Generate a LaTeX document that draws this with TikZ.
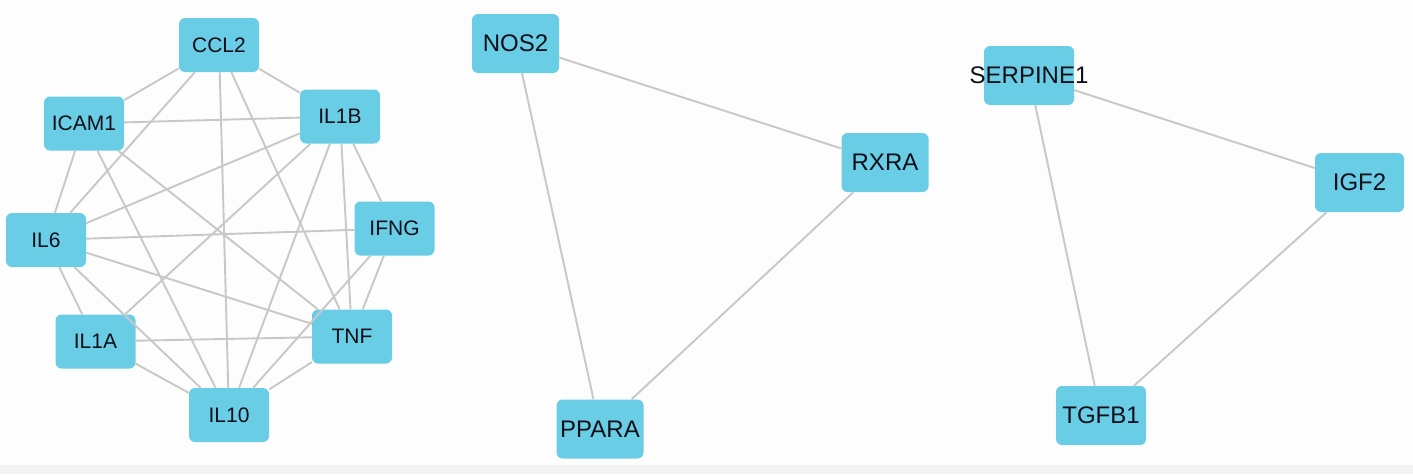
\documentclass[tikz,border=0pt]{standalone}
\usepackage{fontspec}
\setmainfont{Liberation Sans}
\definecolor{nodefill}{RGB}{106,205,230}
\definecolor{edgecol}{RGB}{200,200,200}
\definecolor{bgcol}{RGB}{253,253,253}
\definecolor{stripcol}{RGB}{242,242,242}
\definecolor{txtcol}{RGB}{15,15,25}
\tikzset{
  gene/.style={rectangle, rounded corners=6pt, fill=nodefill, draw=none,
    minimum width=87pt, minimum height=59pt, inner sep=0pt,
    text=txtcol, font=\fontsize{24}{24}\selectfont},
  small/.style={gene, minimum width=80pt, minimum height=54pt,
    font=\fontsize{21}{21}\selectfont},
  link/.style={draw=edgecol, line width=1.9pt}
}
\begin{document}
\begin{tikzpicture}[x=1pt,y=-1pt]
\fill[bgcol] (0,0) rectangle (1413,474);
\fill[stripcol] (0,465) rectangle (1413,474);
\useasboundingbox (0,0) rectangle (1413,474);
% left cluster
\node[small] (CCL2) at (219,45) {CCL2};
\node[small] (ICAM1) at (84,123.5) {ICAM1};
\node[small] (IL1B) at (340,116.5) {IL1B};
\node[small] (IFNG) at (394.5,228.5) {IFNG};
\node[small] (IL6) at (46,240) {IL6};
\node[small] (IL1A) at (95.5,341.5) {IL1A};
\node[small] (TNF) at (352,336.5) {TNF};
\node[small] (IL10) at (229,415) {IL10};
% middle cluster
\node[gene] (NOS2) at (515.5,43.5) {NOS2};
\node[gene] (RXRA) at (885,162.5) {RXRA};
\node[gene] (PPARA) at (600,429) {PPARA};
% right cluster
\node[gene, minimum width=90pt] (SERPINE1) at (1029,75.5) {\makebox[0pt]{SERPINE1}};
\node[gene, minimum width=89pt] (IGF2) at (1359.5,182.5) {IGF2};
\node[gene, minimum width=90pt] (TGFB1) at (1101,415.5) {TGFB1};
% edges
\foreach \a/\b in {CCL2/ICAM1, CCL2/IL1B, CCL2/IL6, CCL2/IL10, CCL2/TNF,
  ICAM1/IL1B, ICAM1/IL6, ICAM1/IL10, ICAM1/TNF,
  IL1B/IL6, IL1B/IL1A, IL1B/IL10, IL1B/TNF, IL1B/IFNG,
  IFNG/IL6, IFNG/TNF, IFNG/IL10,
  IL6/TNF, IL6/IL1A, IL6/IL10,
  IL1A/TNF, IL1A/IL10, TNF/IL10,
  NOS2/RXRA, NOS2/PPARA, RXRA/PPARA,
  SERPINE1/IGF2, SERPINE1/TGFB1, IGF2/TGFB1}
  \draw[link] (\a) -- (\b);
\end{tikzpicture}
\end{document}
